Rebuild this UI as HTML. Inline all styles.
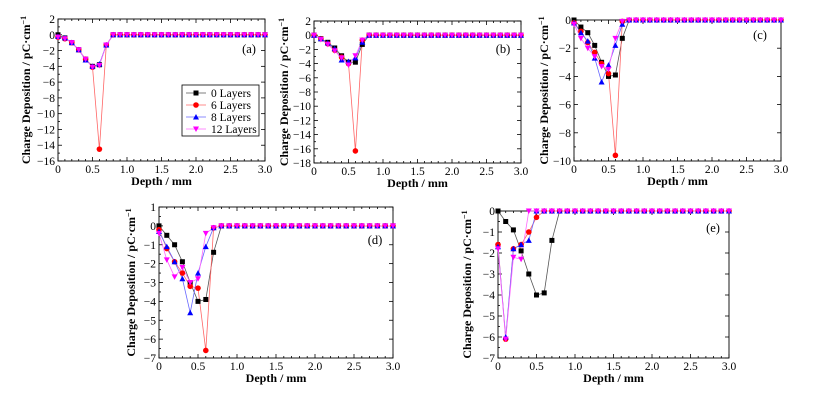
<!DOCTYPE html>
<html><head><meta charset="utf-8"><style>
body{margin:0;background:#fff;}
svg{display:block;}
svg text{font-family:"Liberation Serif","DejaVu Serif",serif;}
</style></head><body>
<svg id="fig" width="820" height="401" viewBox="0 0 820 401" font-family="'Liberation Serif','DejaVu Serif',serif"></svg>
<script>
const depth = Array.from({length:31},(_,i)=>+(i*0.1).toFixed(1));
const seriesNames = ["0 Layers","6 Layers","8 Layers","12 Layers"];
const a0 = [0,-0.4,-1,-1.9,-3.1,-4,-3.8,-1.3];
const a6 = [-0.3,-0.5,-1,-1.9,-3.1,-4.1,-14.5,-1.3];
const a8 = [-0.2,-0.4,-1,-1.9,-3.2,-4,-3.7,-1.3];
const a12 = [-0.3,-0.5,-1,-1.9,-3.1,-4.1,-3.9,-1.3];
const b0 = [0,-0.5,-1,-1.8,-2.9,-3.8,-3.8,-1.3];
const b6 = [0,-0.5,-1.2,-2.1,-3.1,-4,-16.3,-0.7];
const b8 = [0,-0.5,-1.1,-1.9,-3.5,-3.7,-3.2,-1];
const b12 = [0,-0.6,-1.3,-2.2,-3.2,-4.2,-2.9,-0.7];
const c0 = [0,-0.5,-0.9,-1.8,-3,-4,-3.9,-1.3];
const c6 = [-0.2,-0.8,-1.6,-2.3,-3.1,-3.8,-9.6,-0.1];
const c8 = [-0.2,-0.9,-1.5,-2.7,-4.4,-3.2,-1.8,-0.3];
const c12 = [-0.3,-1.3,-2,-2.6,-3.3,-3.5,-1.3,-0.1];
const d0 = [0,-0.5,-1,-1.9,-3,-4,-3.9,-1.4];
const d6 = [-0.2,-1.2,-1.9,-2.5,-3.2,-3.3,-6.6,-0.1];
const d8 = [-0.3,-1.1,-1.9,-2.8,-4.6,-2.5,-1.1,-0.1];
const d12 = [-0.4,-1.8,-2.7,-2.2,-3,-2.8,-0.4,-0.1];
const e0 = [0,-0.5,-0.9,-1.9,-3,-4,-3.9,-1.4];
const e6 = [-1.6,-6.1,-1.8,-1.6,-1,-0.3,0,0];
const e8 = [-1.7,-6,-1.8,-1.6,-1.4,0,0,0];
const e12 = [-1.8,-6.1,-2.2,-2.3,0,0,0,0];
const xTicks = [0,0.5,1.0,1.5,2.0,2.5,3.0];

const NS="http://www.w3.org/2000/svg";
const svg=document.getElementById('fig');
const colors=["#000","#f00","#00f","#f0f"];
const lineColors=["#555","#f66","#66f","#f6f"];
function mk(tag,attrs,parent){const e=document.createElementNS(NS,tag);for(const k in attrs)e.setAttribute(k,attrs[k]);(parent||svg).appendChild(e);return e;}
function full(arr){return depth.map((_,i)=>i<arr.length?arr[i]:0);}
function marker(g,k,x,y){
  const c=colors[k];let m;
  if(k===0)m=mk('rect',{x:x-2.5,y:y-2.5,width:5,height:5,fill:c},g);
  else if(k===1)m=mk('circle',{cx:x,cy:y,r:2.8,fill:c},g);
  else if(k===2)m=mk('path',{d:`M${x},${y-3}L${x+3},${y+2.5}L${x-3},${y+2.5}Z`,fill:c},g);
  else m=mk('path',{d:`M${x},${y+3}L${x+3},${y-2.5}L${x-3},${y-2.5}Z`,fill:c},g);
  return m;
}
function panel(p){
  const g=mk('g',{});
  
  
  const X=v=>p.x0+(v-0)/(3-0)*(p.x1-p.x0);
  const Y=v=>p.yT+(p.vT-v)/(p.vT-p.vB)*(p.yB-p.yT);
  for(let v=0;v<=3.0001;v+=0.1){
    const major=Math.abs(v*2-Math.round(v*2))<1e-6;
    const x=X(v),len=major?4:2;
    mk('line',{x1:x,y1:p.yB,x2:x,y2:p.yB-len,stroke:'#000','stroke-width':0.8},g);
    mk('line',{x1:x,y1:p.yT,x2:x,y2:p.yT+len,stroke:'#000','stroke-width':0.8},g);
  }
  xTicks.forEach(v=>{const t=mk('text',{x:X(v),y:p.yB+12,'font-size':11.5,'text-anchor':'middle'},g);t.textContent=v===0?'0':v.toFixed(1);
    });
  for(let v=p.vB;v<=p.vT+1e-6;v+=p.step){
    const y=Y(v);
    mk('line',{x1:p.x0,y1:y,x2:p.x0+4,y2:y,stroke:'#000','stroke-width':0.8},g);
    mk('line',{x1:p.x1,y1:y,x2:p.x1-4,y2:y,stroke:'#000','stroke-width':0.8},g);
    if(v+p.step/2<=p.vT){const ym=Y(v+p.step/2);
      mk('line',{x1:p.x0,y1:ym,x2:p.x0+2,y2:ym,stroke:'#000','stroke-width':0.8},g);}
    const t=mk('text',{x:p.x0-3,y:y+4,'font-size':11.5,'text-anchor':'end'},g);
    t.textContent=v<0?'\u2212'+(-v):String(v);
    
  }
  const fr=mk('rect',{x:p.x0,y:p.yT,width:p.x1-p.x0,height:p.yB-p.yT,fill:'none',stroke:'#000','stroke-width':0.9},g);
  
  p.series.forEach((arr,k)=>{
    const vals=full(arr);
    const pl=mk('polyline',{points:vals.map((v,i)=>X(depth[i])+','+Y(v)).join(' '),fill:'none',stroke:lineColors[k],'stroke-width':0.8},g);
    
    
  });
  p.series.forEach((arr,k)=>{
    const vals=full(arr);
    vals.forEach((v,i)=>{const m=marker(g,k,X(depth[i]),Y(v));
      
      });
  });
  const xl=mk('text',{x:(p.x0+p.x1)/2,y:p.yB+24,'font-size':12,'font-weight':'bold','text-anchor':'middle'},g);
  xl.textContent='Depth / mm';
  const yl=mk('text',{transform:`translate(${p.ylx},${(p.yT+p.yB)/2}) rotate(-90)`,'font-size':12,'font-weight':'bold','text-anchor':'middle'},g);
  yl.innerHTML='Charge Deposition / pC·cm<tspan dy="-4" font-size="8">−1</tspan>';
  
  const lb=mk('text',{x:p.lx,y:p.ly,'font-size':12.5,'text-anchor':'middle'},g);
  lb.textContent='('+p.id+')';
}
panel({id:'a',x0:58,x1:265,yT:19,yB:161,vT:2,vB:-16,step:2,series:[a0,a6,a8,a12],ylx:30,lx:249,ly:53});
panel({id:'b',x0:314,x1:521,yT:21,yB:163,vT:2,vB:-18,step:2,series:[b0,b6,b8,b12],ylx:288,lx:503,ly:53});
panel({id:'c',x0:574,x1:781,yT:20,yB:161,vT:0,vB:-10,step:2,series:[c0,c6,c8,c12],ylx:548,lx:760,ly:39});
panel({id:'d',x0:159,x1:393,yT:207,yB:358,vT:1,vB:-7,step:1,series:[d0,d6,d8,d12],ylx:135,lx:375,ly:244});
panel({id:'e',x0:498,x1:729,yT:211,yB:358,vT:0,vB:-7,step:1,series:[e0,e6,e8,e12],ylx:471,lx:713,ly:232});
const lg=mk('g',{});


mk('rect',{x:182,y:85,width:77,height:51,fill:'#fff',stroke:'#000','stroke-width':0.8},lg);
seriesNames.forEach((n,k)=>{
  const y=93+k*12;
  const ent=mk('g',{},lg);
  
  
  mk('line',{x1:186,y1:y,x2:206,y2:y,stroke:lineColors[k],'stroke-width':0.8},ent);
  marker(ent,k,196,y);
  const t=mk('text',{x:211,y:y+4,'font-size':11.5},ent);t.textContent=n;
});
</script>
</body></html>
